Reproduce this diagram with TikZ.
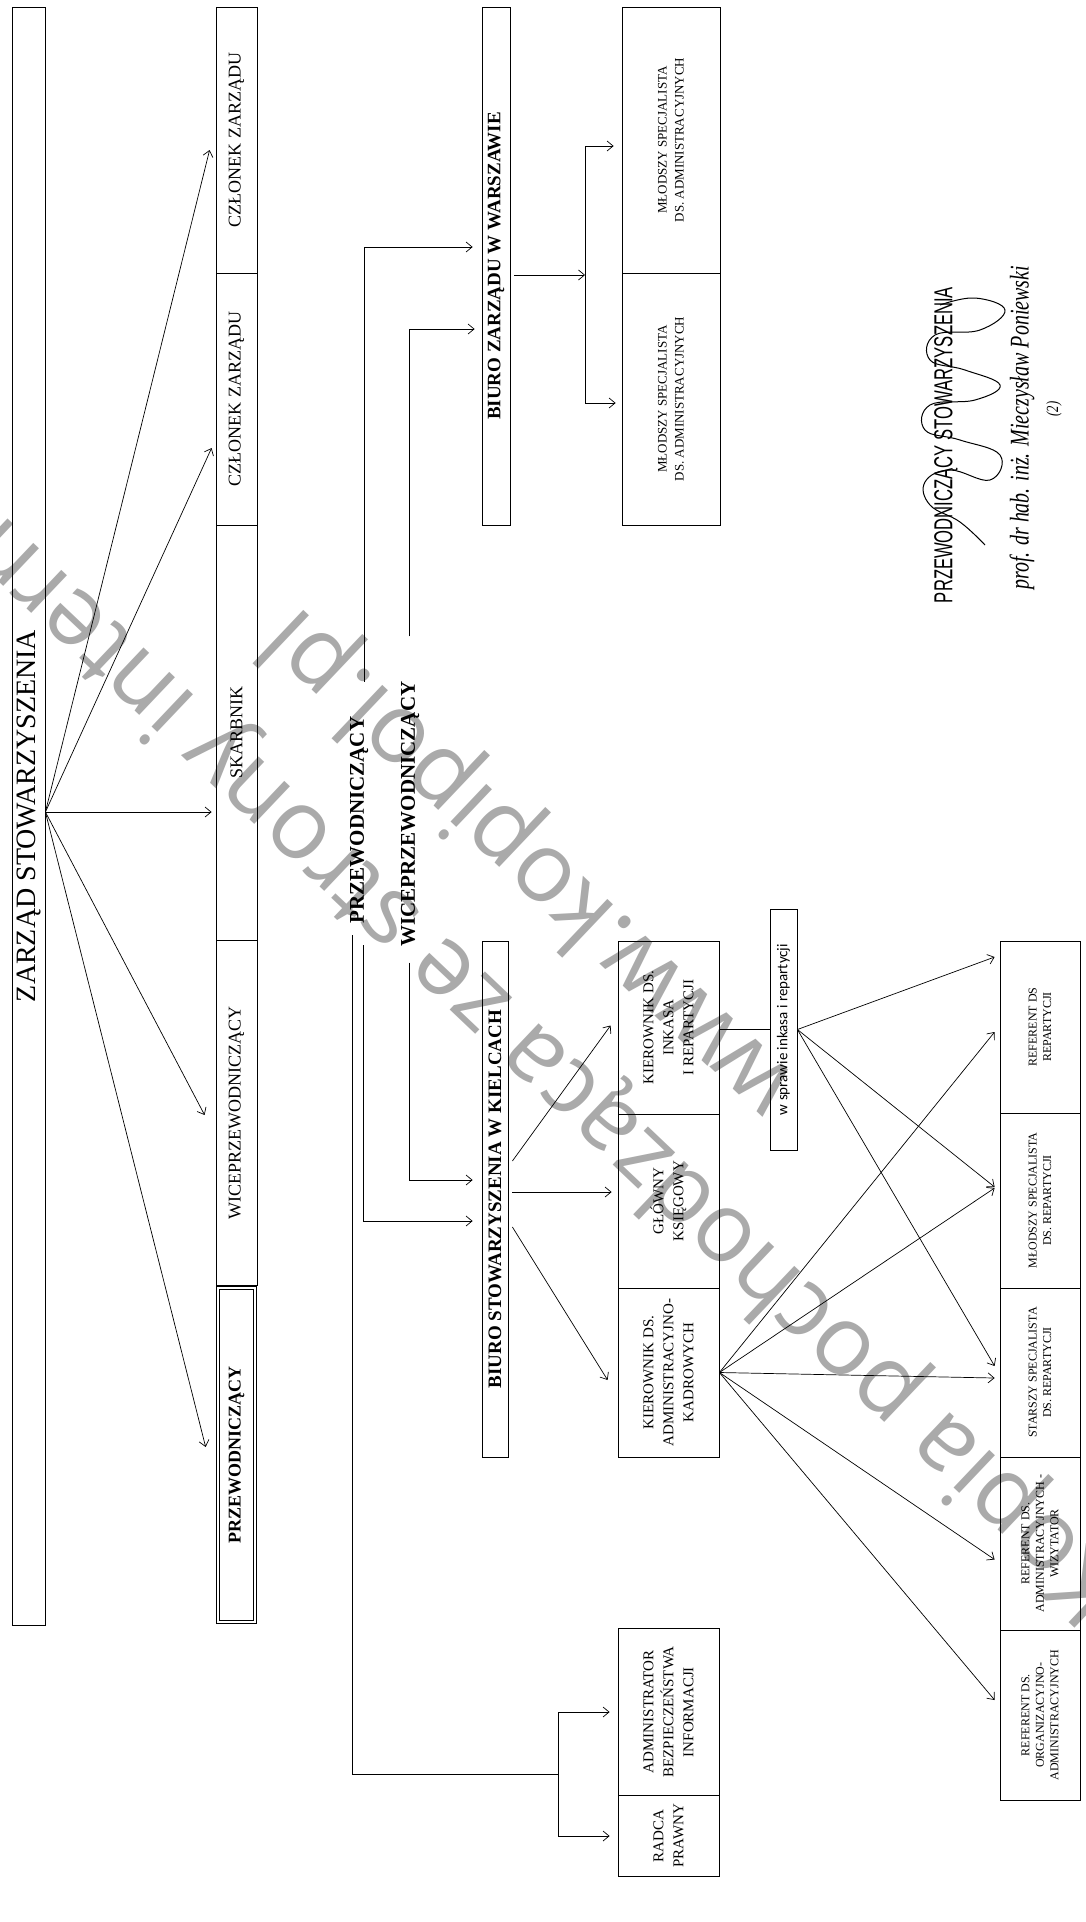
\documentclass[tikz,border=0pt]{standalone}
\usepackage{fontspec}
\setmainfont{Liberation Serif}
\newfontfamily\calibfont{Carlito}
\newfontfamily\wmfont{Open Sans}
\newfontfamily\narrowfont[FakeStretch=0.64]{Liberation Sans}
\newfontfamily\sigfont[FakeStretch=0.74]{Liberation Serif}
\usetikzlibrary{arrows.meta,calc}
\definecolor{wmgray}{RGB}{170,170,170}
\begin{document}
\begin{tikzpicture}[x=1pt,y=-1pt,
 bx/.style={draw, line width=0.8pt, rotate=90, inner sep=0pt, align=center},
 lbl/.style={rotate=90, inner sep=0pt, align=center},
 arr/.style={line width=0.7pt, -{Straight Barb[length=6pt,width=10pt]}},
 ln/.style={line width=0.7pt},
 wm/.style={rotate=136.5, inner sep=0pt, text=wmgray, font=\wmfont\fontsize{97}{97}\selectfont},
 fbig/.style={font=\fontsize{28}{30}\selectfont},
 fcol/.style={font=\fontsize{18}{21}\selectfont},
 fhead/.style={font=\bfseries\fontsize{19}{22}\selectfont},
 flab/.style={font=\bfseries\fontsize{21}{24}\selectfont},
 fmid/.style={font=\fontsize{15}{20}\selectfont},
 fsmall/.style={font=\fontsize{12}{14.5}\selectfont},
 fmlod/.style={font=\fontsize{13}{17}\selectfont},
]
\useasboundingbox (0,0) rectangle (1085,1922);
\fill[white] (0,0) rectangle (1085,1922);

% watermark
\node[wm] (wm1) at (440,964) {Kopia pochodząca ze strony internetowej};
\node[wm] (wm2) at (531,861) {www.kopipol.pl};

% left board
\node[bx, fbig, minimum width=1618pt, minimum height=33pt] (zarzad) at (28.5,816) {ZARZĄD STOWARZYSZENIA};

% column of members
\node[bx, fcol, minimum width=266pt, minimum height=41pt] (cz1) at (236.5,140) {CZŁONEK ZARZĄDU};
\node[bx, fcol, minimum width=252pt, minimum height=41pt] (cz2) at (236.5,399) {CZŁONEK ZARZĄDU};
\node[bx, fcol, minimum width=415pt, minimum height=41pt] (skarb) at (236.5,732.5) {SKARBNIK};
\node[bx, fcol, minimum width=345pt, minimum height=41pt] (wice) at (236.5,1112.5) {WICEPRZEWODNICZĄCY};
\node[bx, font=\bfseries\fontsize{18}{21}\selectfont, double, line width=0.7pt, double distance=2.2pt, minimum width=334pt, minimum height=37pt] (przew) at (236.5,1455) {PRZEWODNICZĄCY};

% fan from the board
\coordinate (zf) at ($(zarzad.south)+(0,-4)$);
\draw[arr] (zf) -- ($(cz1.north)+(-6,10)$);
\draw[arr] (zf) -- ($(cz2.north)+(-4,49)$);
\draw[arr] (zf) -- ($(skarb.north)+(-4,79.5)$);
\draw[arr] (zf) -- ($(wice.north)+(-11,2.5)$);
\draw[arr] (zf) -- ($(przew.north)+(-12,-8)$);

% labels
\node[lbl, flab] (lblP) at (359,820) {PRZEWODNICZĄCY};
\node[lbl, flab] (lblW) at (410,814) {WICEPRZEWODNICZĄCY};

% Warsaw office
\node[bx, fhead, minimum width=518pt, minimum height=28pt] (warsz) at (496,266) {BIURO ZARZĄDU W WARSZAWIE};
\node[bx, fmlod, minimum width=266pt, minimum height=98pt] (mlod1) at (671,140) {MŁODSZY SPECJALISTA\\DS. ADMINISTRACYJNYCH};
\node[bx, fmlod, minimum width=252pt, minimum height=98pt] (mlod2) at (671,399) {MŁODSZY SPECJALISTA\\DS. ADMINISTRACYJNYCH};

\draw[arr] ($(lblP.east)+(5,-35)$) |- ($(warsz.north)+(-9,-19)$);
\draw[arr] ($(lblW.east)+(-1,-45)$) |- ($(warsz.north)+(-7,63)$);

\coordinate (wb1) at (585,146);
\coordinate (wb2) at (585,403);
\draw[arr] ($(warsz.south)+(4,9)$) -- (585,275);
\draw[ln] (wb1) -- (wb2);
\draw[arr] (wb1) -- ($(mlod1.north)+(-8,6)$);
\draw[arr] (wb2) -- ($(mlod2.north)+(-6,4)$);

% Kielce office
\node[bx, fhead, minimum width=516pt, minimum height=26pt] (kielce) at (495,1199) {BIURO STOWARZYSZENIA W KIELCACH};
\node[bx, fmid, minimum width=173pt, minimum height=101pt] (inkasa) at (668.5,1027.5) {KIEROWNIK DS.\\INKASA\\I REPARTYCJI};
\node[bx, fmid, minimum width=174pt, minimum height=101pt] (glowny) at (668.5,1201) {GŁÓWNY\\KSIĘGOWY};
\node[bx, fmid, minimum width=169pt, minimum height=101pt] (kadr) at (668.5,1372.5) {KIEROWNIK DS.\\ADMINISTRACYJNO-\\KADROWYCH};

\draw[arr] ($(lblP.west)+(4,22)$) |- ($(kielce.north)+(-9,22)$);
\draw[arr] ($(lblW.west)+(-1,16)$) |- ($(kielce.north)+(-9,-19)$);

\draw[arr] ($(kielce.south)+(4,-38)$) -- ($(inkasa.north)+(-7,-2)$);
\draw[arr] ($(kielce.south)+(4,-7)$) -- ($(glowny.north)+(-6,-9)$);
\draw[arr] ($(kielce.south)+(4,28)$) -- ($(kadr.north)+(-10,7.5)$);

\node[bx, font=\calibfont\fontsize{15}{18}\selectfont, minimum width=241pt, minimum height=27pt] (sprawa) at (783.5,1029.5) {w sprawie inkasa i repartycji};
\draw[ln] ($(inkasa.south)+(0,2)$) -- (sprawa.north);

% bottom row of posts
\node[bx, fsmall, minimum width=172pt, minimum height=80pt] (b1) at (1040,1027) {REFERENT DS\\REPARTYCJI};
\node[bx, fsmall, minimum width=175pt, minimum height=80pt] (b2) at (1040,1200.5) {MŁODSZY SPECJALISTA\\DS. REPARTYCJI};
\node[bx, fsmall, minimum width=169pt, minimum height=80pt] (b3) at (1040,1372.5) {STARSZY SPECJALISTA\\DS. REPARTYCJI};
\node[bx, fsmall, minimum width=173pt, minimum height=80pt] (b4) at (1040,1543.5) {REFERENT DS.\\ADMINISTRACYJNYCH -\\WIZYTATOR};
\node[bx, fsmall, minimum width=170pt, minimum height=80pt] (b5) at (1040,1715) {REFERENT DS.\\ORGANIZACYJNO-\\ADMINISTRACYJNYCH};

\draw[arr] (sprawa.south) -- ($(b1.north)+(-5,-70)$);
\draw[arr] (sprawa.south) -- ($(b2.north)+(-5,-13.5)$);
\draw[arr] (sprawa.south) -- ($(b3.north)+(-5,-6.5)$);

\draw[arr] (kadr.south) -- ($(b1.north)+(-5,5)$);
\draw[arr] (kadr.south) -- ($(b2.north)+(-5,-12.5)$);
\draw[arr] (kadr.south) -- ($(b3.north)+(-5,5.5)$);
\draw[arr] (kadr.south) -- ($(b4.north)+(-5,16)$);
\draw[arr] (kadr.south) -- ($(b5.north)+(-5,-15)$);

% legal and IT
\node[bx, fmid, minimum width=167pt, minimum height=101pt] (admin) at (668.5,1712) {ADMINISTRATOR\\BEZPIECZEŃSTWA\\INFORMACJI};
\node[bx, fmid, minimum width=81pt, minimum height=101pt] (radca) at (668.5,1836) {RADCA\\PRAWNY};

\coordinate (lb) at (558,1774);
\coordinate (lb1) at (558,1712);
\coordinate (lb2) at (558,1836);
\draw[ln] ($(lblP.west)+(-7,12)$) |- (lb);
\draw[ln] (lb1) -- (lb2);
\draw[arr] (lb1) -- ($(admin.north)+(-8,0)$);
\draw[arr] (lb2) -- ($(radca.north)+(-8,0)$);

% signature block
\node[lbl, font=\narrowfont\fontsize{26}{28}\selectfont] (sigT) at (946,445) {PRZEWODNICZĄCY STOWARZYSZENIA};
\node[lbl, font=\sigfont\itshape\fontsize{27}{29}\selectfont] (sigN) at (1022,428) {prof. dr hab. inż. Mieczysław Poniewski};
\node[lbl, font=\sigfont\itshape\fontsize{17}{18}\selectfont] (sig2) at (1054,409) {(2)};
\draw[line width=1pt] plot[smooth, tension=0.7] coordinates {(985,545) (960,522) (930,505) (925,482) (950,470) (990,480) (1000,455) (960,440) (925,430) (930,405) (975,400) (1000,385) (965,370) (930,360) (935,335) (980,330) (1005,310) (975,298) (940,305)};
\end{tikzpicture}
\end{document}
